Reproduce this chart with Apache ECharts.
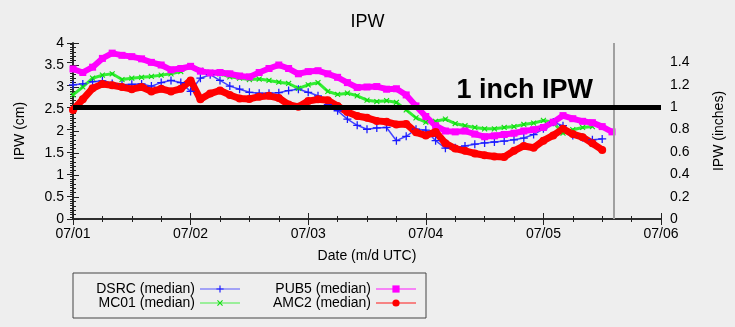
<!DOCTYPE html>
<html>
<head>
<meta charset="utf-8">
<script src="https://cdn.jsdelivr.net/npm/echarts@6/dist/echarts.min.js"></script>
<style>html,body{margin:0;padding:0;background:#eeeeee;}#c{width:735px;height:327px;}</style>
</head>
<body>
<div id="c"></div>
<script>
// hours since 07/01 00:00 UTC
const hours = [0,2,4,6,8,10,12,14,16,18, 20,22,24,26,28,30,32,34,36,38, 40,42,44,46,48,50,52,54,56,58,
  60,62,64,66,68,70,72,74,76,78, 80,82,84,86,88,90,92,94,96,98, 100,102,104,106,108,110];
const dsrc = [3.05,3.07,3.12,3.14,3.08,3.05,3.06,3.07,3.02,3.10, 3.15,3.10,2.90,3.20,3.28,3.15,3.02,2.95,2.88,2.86,
  2.86,2.87,2.92,2.95,2.88,2.80,2.60,2.46,2.27,2.13, 2.04,2.07,2.08,1.78,1.88,2.04,2.02,1.78,1.61,1.62,
  1.66,1.70,1.73,1.75,1.77,1.80,1.84,1.92,2.05,2.20, 2.12,1.90,1.85,1.80,1.82,null];
const mc01 = [2.82,3.00,3.20,3.27,3.30,3.17,3.20,3.22,3.24,3.27, 3.30,3.35,3.48,3.38,3.33,3.30,3.23,3.20,3.17,3.18,
  3.15,3.11,3.08,2.97,3.05,3.10,2.90,2.83,2.86,2.80, 2.70,2.67,2.69,2.65,2.48,2.30,2.20,2.22,2.27,2.17,
  2.12,2.08,2.05,2.05,2.08,2.10,2.15,2.18,2.24,2.20, 1.95,2.03,2.08,2.10,null,null];
const pub5 = [3.41,3.33,3.45,3.65,3.77,3.72,3.69,3.64,3.56,3.50, 3.39,3.42,3.47,3.36,3.32,3.33,3.30,3.25,3.23,3.33,
  3.42,3.50,3.42,3.30,3.35,3.37,3.30,3.22,3.10,2.99, 3.00,3.01,2.95,2.96,2.82,2.57,2.33,2.12,2.00,1.98,
  2.00,1.93,1.87,1.89,1.92,1.95,2.00,2.03,2.08,2.20, 2.35,2.28,2.22,2.19,2.10,1.98];
const amc2 = [2.48,2.72,2.97,3.07,3.04,3.00,2.95,3.00,2.90,2.96, 2.90,2.96,3.15,2.72,2.85,2.92,2.82,2.74,2.73,2.78,
  2.80,2.75,2.60,2.55,2.68,2.72,2.70,2.57,2.43,2.34, 2.30,2.23,2.21,2.15,2.16,1.97,1.90,1.98,1.72,1.60,
  1.55,1.49,1.45,1.42,1.41,1.55,1.66,1.62,1.78,1.90, 2.05,1.93,1.86,1.72,1.57,null];
const xTickLabels = ['07/01','07/02','07/03','07/04','07/05','07/06'];
const seriesNames = ['DSRC (median)','MC01 (median)','PUB5 (median)','AMC2 (median)'];
const oneInchCm = 2.54;
const nowMarkerHour = 110.4;

const pair = arr => hours.map((h,i) => [h, arr[i]]);
const FONT = '"Liberation Sans", Arial, sans-serif';
const plusPath = 'path://M4.2,0H5.8V4.2H10V5.8H5.8V10H4.2V5.8H0V4.2H4.2Z';

const chart = echarts.init(document.getElementById('c'), null, {renderer:'canvas'});
const axisLineStyle = {color:'#222', width:1.5};
const commonX = {type:'value', min:0, max:120, interval:24, scale:false,
  axisLine:{show:true, lineStyle:axisLineStyle}, splitLine:{show:false},
  axisTick:{show:true, inside:true, length:6, lineStyle:{color:'#222'}},
  minorTick:{show:true, splitNumber:4, length:3, lineStyle:{color:'#222'}}};
const legendCommon = {orient:'vertical', align:'right', top:282, padding:0,
  itemWidth:40, itemHeight:9, itemGap:0, textStyle:{fontFamily:FONT, fontSize:14, color:'#000', lineHeight:14},
  lineStyle:{width:2, opacity:0.45}};
chart.setOption({
  backgroundColor:'#eeeeee',
  animation:false,
  textStyle:{fontFamily:FONT},
  title:{text:'IPW', left:'center', top:8, textStyle:{fontFamily:FONT, fontSize:18, fontWeight:'normal', color:'#000'}},
  grid:{left:73, right:74, top:43, bottom:108, containLabel:false},
  xAxis:[
    Object.assign({}, commonX, {position:'bottom', name:'Date (m/d UTC)', nameLocation:'middle', nameGap:30,
      nameTextStyle:{fontFamily:FONT, fontSize:14, color:'#000'},
      axisLabel:{fontFamily:FONT, fontSize:14, color:'#000', margin:8, formatter:v => xTickLabels[Math.round(v/24)]}}),
    Object.assign({}, commonX, {position:'top', axisLabel:{show:false}})
  ],
  yAxis:[
    {type:'value', min:0, max:4, interval:0.5, position:'left', name:'IPW (cm)', nameLocation:'middle', nameGap:46,
      nameTextStyle:{fontFamily:FONT, fontSize:14, color:'#000'},
      axisLine:{show:true, lineStyle:axisLineStyle}, splitLine:{show:false},
      axisTick:{show:true, inside:true, length:6, lineStyle:{color:'#222'}},
      minorTick:{show:true, splitNumber:5, length:3, lineStyle:{color:'#222'}},
      axisLabel:{fontFamily:FONT, fontSize:14, color:'#000', margin:9}},
    {type:'value', min:0, max:4/2.54, interval:0.2, position:'right', name:'IPW (inches)', nameLocation:'middle', nameGap:51,
      nameTextStyle:{fontFamily:FONT, fontSize:14, color:'#000'},
      axisLine:{show:true, lineStyle:axisLineStyle}, splitLine:{show:false},
      axisTick:{show:true, inside:true, length:6, lineStyle:{color:'#222'}},
      minorTick:{show:true, splitNumber:10, length:3, lineStyle:{color:'#222'}},
      axisLabel:{fontFamily:FONT, fontSize:14, color:'#000', margin:9, showMaxLabel:false,
        formatter:v => String(+v.toFixed(1))}}
  ],
  legend:[
    Object.assign({}, legendCommon, {data:[seriesNames[0], seriesNames[1]], right:494}),
    Object.assign({}, legendCommon, {data:[seriesNames[2], seriesNames[3]], right:318})
  ],
  graphic:[{type:'rect', shape:{x:73, y:273, width:353, height:45}, style:{fill:'none', stroke:'#444', lineWidth:1}}],
  series:[
    {name:seriesNames[0], type:'line', data:pair(dsrc), symbol:plusPath, symbolSize:8, showAllSymbol:true,
      itemStyle:{color:'#1a1aff'}, lineStyle:{color:'#4444ff', width:1.5},
      markLine:{silent:true, symbol:'none', label:{show:false},
        lineStyle:{color:'#a0a0a0', width:2, type:'solid'}, data:[{xAxis:nowMarkerHour}]}},
    {name:seriesNames[1], type:'line', data:pair(mc01), symbol:plusPath, symbolRotate:45, symbolSize:7, showAllSymbol:true,
      itemStyle:{color:'#11dd11'}, lineStyle:{color:'#33ee33', width:3}},
    {name:seriesNames[2], type:'line', data:pair(pub5), symbol:'rect', symbolSize:7, showAllSymbol:true,
      itemStyle:{color:'#ff00ff'}, lineStyle:{color:'#ff00ff', width:6}},
    {name:seriesNames[3], type:'line', data:pair(amc2), symbol:'circle', symbolSize:8, showAllSymbol:true,
      itemStyle:{color:'#ff0000'}, lineStyle:{color:'#ff0000', width:7},
      markLine:{silent:true, symbol:'none',
        lineStyle:{color:'#000', width:5, type:'solid'},
        label:{show:true, position:'insideEndTop', formatter:'1 inch IPW', fontFamily:FONT, fontSize:27,
          fontWeight:'bold', color:'#000', distance:[68, 3]},
        data:[{yAxis:oneInchCm}]}}
  ]
});
</script>
</body>
</html>
